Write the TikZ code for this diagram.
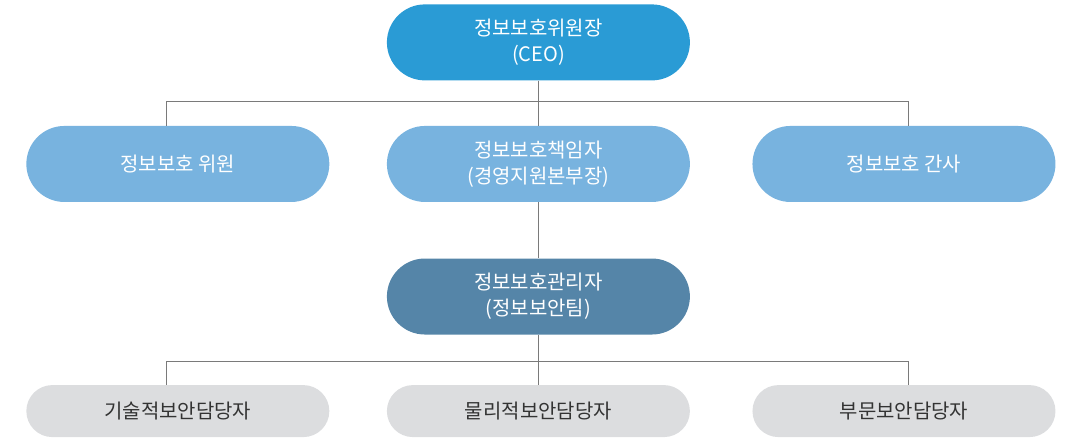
\documentclass[tikz,border=0pt]{standalone}
\usepackage{fontspec}
\setmainfont{Noto Sans CJK KR}
\usepackage{xcolor}
\definecolor{ceoblue}{HTML}{2A9BD5}
\definecolor{memblue}{HTML}{78B3DF}
\definecolor{mgrblue}{HTML}{5585A8}
\definecolor{stafgray}{HTML}{DCDDDF}
\definecolor{textgray}{HTML}{333333}
\definecolor{linegray}{HTML}{7A7A7A}
\usepackage{tikz}
\usetikzlibrary{positioning}
\tikzset{
  pill/.style={
    rectangle, draw=none, text=white, rounded corners=0.95cm,
    minimum width=7.575cm, minimum height=1.9cm,
    align=center, font=\fontsize{14.2}{18.5}\selectfont},
  ceobox/.style={pill, fill=ceoblue},
  membox/.style={pill, fill=memblue},
  mgrbox/.style={pill, fill=mgrblue},
  stafbox/.style={pill, fill=stafgray, text=textgray,
    minimum height=1.3cm, rounded corners=0.65cm},
  conn/.style={draw=linegray, line width=0.7pt},
}
\begin{document}
\begin{tikzpicture}[node distance=1.125cm and 1.45cm]
  \useasboundingbox (0,0) rectangle (26.95,-10.95);
  % top level
  \node[ceobox] (ceo) at (13.46,-1.06) {정보보호위원장\\(CEO)};
  % second level
  \node[membox, below=1.125cm of ceo] (chief) {정보보호책임자\\(경영지원본부장)};
  \node[membox, left=1.425cm of chief] (mem) {정보보호 위원};
  \node[membox, right=1.55cm of chief] (sec) {정보보호 간사};
  % manager
  \node[mgrbox, below=1.4cm of chief] (mgr) {정보보호관리자\\(정보보안팀)};
  % staff
  \node[stafbox, below=1.25cm of mgr] (phys) {물리적보안담당자};
  \node[stafbox, left=1.425cm of phys] (tech) {기술적보안담당자};
  \node[stafbox, right=1.55cm of phys] (dept) {부문보안담당자};
  % connectors
  \draw[conn] (ceo.south) -- (chief.north);
  \draw[conn] (chief.south) -- (mgr.north);
  \draw[conn] (ceo.south) -- ++(0,-0.525) coordinate (bus1);
  \draw[conn] ([xshift=-0.29cm]mem.north) |- (bus1) -| ([xshift=0.11cm]sec.north);
  \draw[conn] (mgr.south) -- (phys.north);
  \draw[conn] (mgr.south) -- ++(0,-0.675) coordinate (bus2);
  \draw[conn] ([xshift=-0.29cm]tech.north) |- (bus2) -| ([xshift=0.11cm]dept.north);
\end{tikzpicture}
\end{document}
